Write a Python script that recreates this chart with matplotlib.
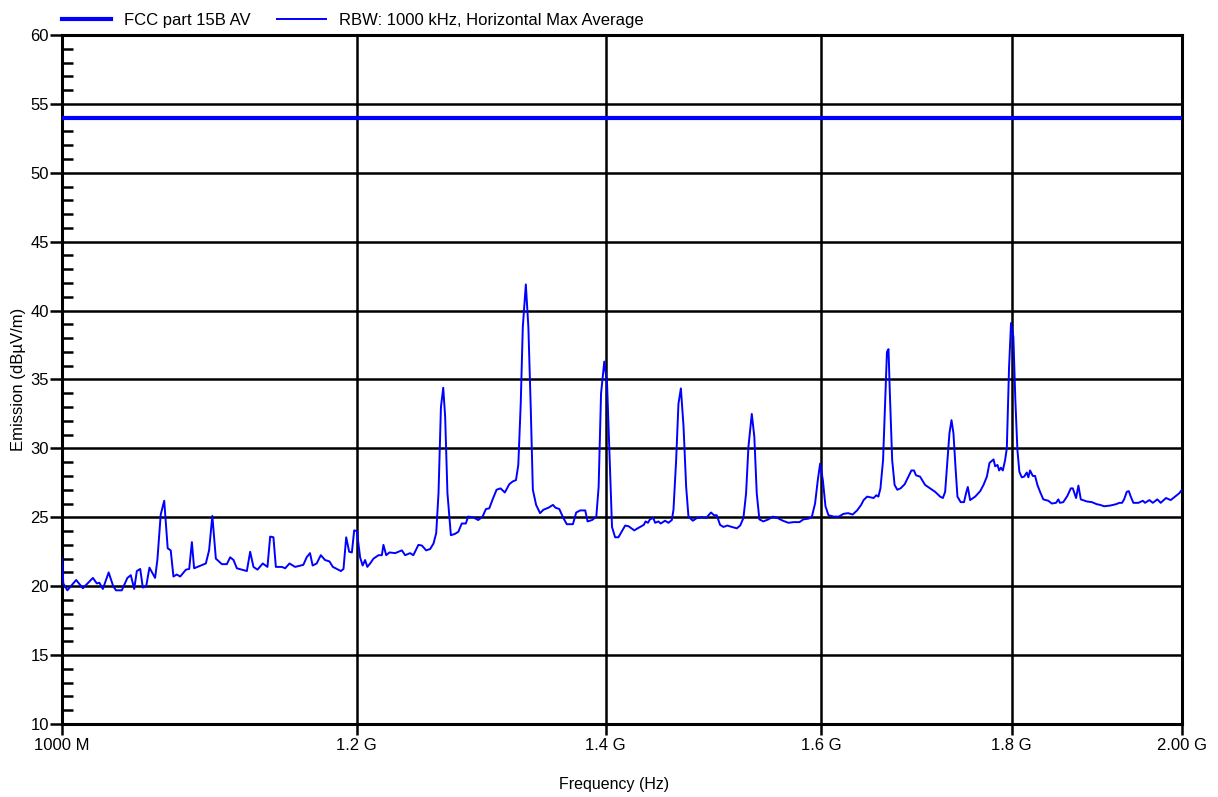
import numpy as np
import matplotlib.pyplot as plt
from matplotlib.ticker import FixedLocator, MultipleLocator, NullLocator

plt.rcParams['font.family'] = ['Liberation Sans', 'DejaVu Sans']

# Average limit (dBuV/m)
limit_level = 54.0

# Measured trace: frequency in MHz, level in dBuV/m
freq_mhz = [
    1000.0, 1000.8, 1003.3, 1008.8, 1013.0, 1019.3, 1021.8, 1023.4, 1025.6, 1029.3,
    1032.2, 1034.0, 1037.7, 1041.3, 1043.5, 1045.7, 1047.4, 1049.6, 1051.3, 1053.5,
    1055.6, 1059.3, 1060.8, 1063.0, 1065.3, 1067.6, 1069.6, 1071.4, 1073.6, 1075.9,
    1079.7, 1081.9, 1083.7, 1085.2, 1093.1, 1095.3, 1097.5, 1099.9, 1104.0, 1107.4,
    1109.7, 1112.0, 1114.3, 1121.2, 1123.5, 1125.8, 1128.6, 1132.3, 1135.6, 1137.5,
    1139.8, 1141.5, 1145.8, 1148.1, 1151.2, 1155.2, 1161.1, 1163.5, 1165.9, 1167.8,
    1170.7, 1173.7, 1176.8, 1180.0, 1182.5, 1188.4, 1190.3, 1192.3, 1194.5, 1196.5,
    1198.2, 1200.2, 1202.6, 1204.5, 1206.3, 1208.0, 1210.1, 1212.6, 1216.4, 1218.9,
    1220.1, 1222.2, 1224.7, 1229.0, 1231.5, 1234.1, 1236.6, 1240.4, 1242.9, 1246.8,
    1249.5, 1252.8, 1255.9, 1258.5, 1260.6, 1262.4, 1264.3, 1266.1, 1267.6, 1269.4,
    1272.1, 1275.4, 1278.0, 1280.7, 1283.9, 1285.8, 1289.8, 1293.8, 1297.3, 1300.0,
    1302.7, 1305.4, 1308.6, 1311.8, 1315.3, 1318.9, 1321.7, 1324.4, 1326.3, 1328.3,
    1330.0, 1332.5, 1334.6, 1336.6, 1338.3, 1341.0, 1344.3, 1347.1, 1351.4, 1355.1,
    1357.1, 1360.4, 1363.8, 1366.7, 1371.9, 1374.7, 1378.1, 1382.4, 1384.4, 1388.2,
    1391.9, 1393.9, 1396.0, 1398.8, 1401.2, 1403.5, 1405.5, 1408.2, 1411.1, 1413.2,
    1417.0, 1420.0, 1425.0, 1428.0, 1433.4, 1435.0, 1437.1, 1438.9, 1441.9, 1443.5,
    1446.4, 1448.5, 1452.4, 1455.4, 1458.5, 1460.0, 1462.4, 1464.5, 1466.7, 1469.1,
    1471.5, 1473.6, 1477.6, 1481.3, 1485.9, 1489.8, 1494.3, 1497.1, 1499.6, 1502.7,
    1505.8, 1509.5, 1513.7, 1518.4, 1521.5, 1524.6, 1527.1, 1529.3, 1532.5, 1534.9,
    1537.2, 1539.7, 1543.5, 1548.3, 1552.6, 1557.0, 1562.3, 1567.7, 1572.6, 1578.4,
    1582.3, 1587.1, 1590.4, 1593.7, 1596.4, 1598.7, 1601.4, 1604.0, 1607.0, 1612.2,
    1617.4, 1621.9, 1626.7, 1631.2, 1635.7, 1639.8, 1642.3, 1645.9, 1649.1, 1652.5,
    1655.3, 1657.4, 1659.5, 1662.2, 1664.7, 1666.2, 1667.8, 1669.2, 1671.6, 1674.1,
    1676.9, 1680.3, 1684.6, 1687.4, 1691.6, 1694.3, 1696.4, 1700.7, 1706.0, 1711.3,
    1716.6, 1722.0, 1724.9, 1727.3, 1729.8, 1731.9, 1734.1, 1736.2, 1738.4, 1740.5,
    1744.0, 1747.6, 1749.8, 1751.7, 1754.2, 1759.7, 1765.2, 1768.8, 1772.5, 1775.4,
    1779.8, 1781.6, 1784.2, 1786.0, 1787.9, 1790.1, 1792.6, 1794.5, 1797.0, 1799.2,
    1801.8, 1804.0, 1806.3, 1808.5, 1811.2, 1813.8, 1816.8, 1818.6, 1820.5, 1823.6,
    1826.2, 1828.8, 1831.8, 1835.5, 1841.2, 1845.2, 1850.0, 1852.6, 1854.5, 1858.3,
    1863.0, 1867.0, 1869.3, 1873.1, 1875.8, 1878.6, 1885.6, 1891.5, 1897.3, 1901.2,
    1905.9, 1912.9, 1920.0, 1923.9, 1927.2, 1929.6, 1932.8, 1935.2, 1937.6, 1940.7,
    1946.8, 1952.1, 1954.8, 1960.0, 1964.2, 1969.7, 1973.8, 1980.3, 1986.1, 1991.4,
    1996.7, 2000.0,
]
level_dbuv = [
    22.0, 20.2, 19.7, 20.45, 19.85, 20.6, 20.2, 20.25, 19.8, 21.0,
    20.0, 19.7, 19.7, 20.6, 20.8, 19.8, 21.1, 21.25, 19.9, 20.0,
    21.35, 20.6, 21.9, 25.2, 26.2, 22.75, 22.6, 20.7, 20.85, 20.7,
    21.2, 21.25, 23.2, 21.3, 21.65, 22.6, 25.1, 22.0, 21.6, 21.6,
    22.1, 21.9, 21.3, 21.1, 22.5, 21.4, 21.2, 21.65, 21.4, 23.6,
    23.55, 21.4, 21.4, 21.3, 21.65, 21.4, 21.55, 22.1, 22.4, 21.5,
    21.65, 22.25, 21.9, 21.8, 21.4, 21.1, 21.25, 23.55, 22.5, 22.45,
    24.05, 24.0, 22.1, 21.5, 21.9, 21.4, 21.65, 22.0, 22.25, 22.25,
    23.0, 22.25, 22.45, 22.4, 22.5, 22.6, 22.25, 22.4, 22.25, 23.0,
    22.95, 22.6, 22.7, 23.1, 23.85, 26.75, 33.0, 34.4, 32.3, 26.75,
    23.7, 23.8, 23.95, 24.55, 24.55, 25.05, 25.0, 24.8, 25.05, 25.6,
    25.65, 26.3, 27.0, 27.1, 26.8, 27.4, 27.6, 27.7, 28.8, 33.25,
    38.8, 41.9, 38.8, 32.8, 27.0, 25.9, 25.3, 25.55, 25.7, 25.9,
    25.7, 25.6, 24.95, 24.5, 24.5, 25.35, 25.5, 25.5, 24.7, 24.8,
    25.05, 27.2, 34.0, 36.3, 34.7, 29.15, 24.3, 23.55, 23.55, 23.85,
    24.4, 24.35, 24.05, 24.2, 24.45, 24.7, 24.6, 24.85, 24.95, 24.6,
    24.7, 24.55, 24.75, 24.6, 24.8, 25.55, 29.15, 33.25, 34.35, 31.6,
    27.2, 25.05, 24.75, 24.95, 25.0, 24.95, 25.35, 25.15, 25.15, 24.45,
    24.3, 24.4, 24.3, 24.2, 24.4, 24.95, 26.75, 30.1, 32.5, 30.85,
    26.75, 24.85, 24.7, 24.85, 25.05, 24.95, 24.75, 24.6, 24.65, 24.65,
    24.85, 24.9, 25.0, 26.0, 27.7, 28.9, 27.7, 25.8, 25.15, 25.05,
    25.05, 25.25, 25.3, 25.2, 25.5, 25.9, 26.25, 26.5, 26.45, 26.4,
    26.6, 26.5, 27.1, 29.15, 34.0, 37.0, 37.2, 34.0, 29.15, 27.35,
    27.0, 27.1, 27.4, 27.8, 28.4, 28.4, 28.05, 27.95, 27.35, 27.1,
    26.85, 26.5, 26.4, 26.85, 29.15, 31.1, 32.05, 31.1, 28.65, 26.5,
    26.1, 26.1, 26.75, 27.2, 26.25, 26.5, 26.9, 27.35, 27.95, 28.95,
    29.2, 28.7, 28.8, 28.4, 28.6, 28.4, 29.15, 30.0, 35.9, 39.1,
    38.1, 33.5, 29.9, 28.3, 27.9, 27.95, 28.25, 27.9, 28.4, 28.0,
    28.0, 27.35, 26.85, 26.3, 26.2, 26.0, 26.05, 26.3, 26.05, 26.1,
    26.55, 27.1, 27.1, 26.4, 27.3, 26.3, 26.15, 26.1, 25.95, 25.9,
    25.8, 25.85, 25.95, 26.05, 26.05, 26.3, 26.85, 26.9, 26.5, 26.05,
    26.05, 26.2, 26.05, 26.25, 26.05, 26.3, 26.05, 26.4, 26.25, 26.5,
    26.75, 27.0,
]

x_ticks = [1000, 1200, 1400, 1600, 1800, 2000]
x_tick_labels = ['1000 M', '1.2 G', '1.4 G', '1.6 G', '1.8 G', '2.00 G']

freq = np.array(freq_mhz)
level = np.array(level_dbuv)

W, H = 1218, 797
fig = plt.figure(figsize=(W / 100, H / 100), dpi=100)
# plot area: 62..1182 px wide, 35..724 px tall
ax = fig.add_axes([62 / W, 1 - 724 / H, 1120 / W, 689 / H])

ax.plot([x_ticks[0], x_ticks[-1]], [limit_level, limit_level], color='#0000ff',
        lw=3, label='FCC part 15B AV', zorder=3)
ax.plot(freq, level, color='#0000ff', lw=1.4,
        label='RBW: 1000 kHz, Horizontal Max Average', zorder=3)

ax.set_xscale('log')
ax.set_xlim(1000, 2000)
ax.set_ylim(10, 60)

ax.xaxis.set_major_locator(FixedLocator(x_ticks))
ax.xaxis.set_minor_locator(NullLocator())
ax.set_xticklabels(x_tick_labels)
ax.yaxis.set_major_locator(MultipleLocator(5))
ax.yaxis.set_minor_locator(MultipleLocator(1))

ax.grid(True, which='major', color='black', lw=1.8)
for s in ax.spines.values():
    s.set_linewidth(2.2)
    s.set_color('black')

ax.tick_params(axis='x', which='major', direction='out', length=8, width=1.8,
               labelsize=12, pad=2, colors='black')
ax.tick_params(axis='y', which='major', direction='out', length=9, width=1.8,
               labelsize=12, pad=0.5, colors='black')
ax.tick_params(axis='y', which='minor', direction='in', length=8, width=1.8)

ax.set_xlabel('Frequency (Hz)', fontsize=11.5, va='center')
ax.xaxis.set_label_coords((614 - 62) / 1120, -(785 - 724) / 689)
ax.set_ylabel('Emission (dBµV/m)', fontsize=12, va='center')
ax.yaxis.set_label_coords(-(62 - 18.5) / 1120, 0.5)

fig.legend(loc='center left', bbox_to_anchor=(62 / W, 1 - 20 / H), ncol=2,
           frameon=False, fontsize=12, handlelength=2.95, handletextpad=0.75,
           columnspacing=1.6, borderpad=0, borderaxespad=0)

fig.savefig('out.png', dpi=100)
